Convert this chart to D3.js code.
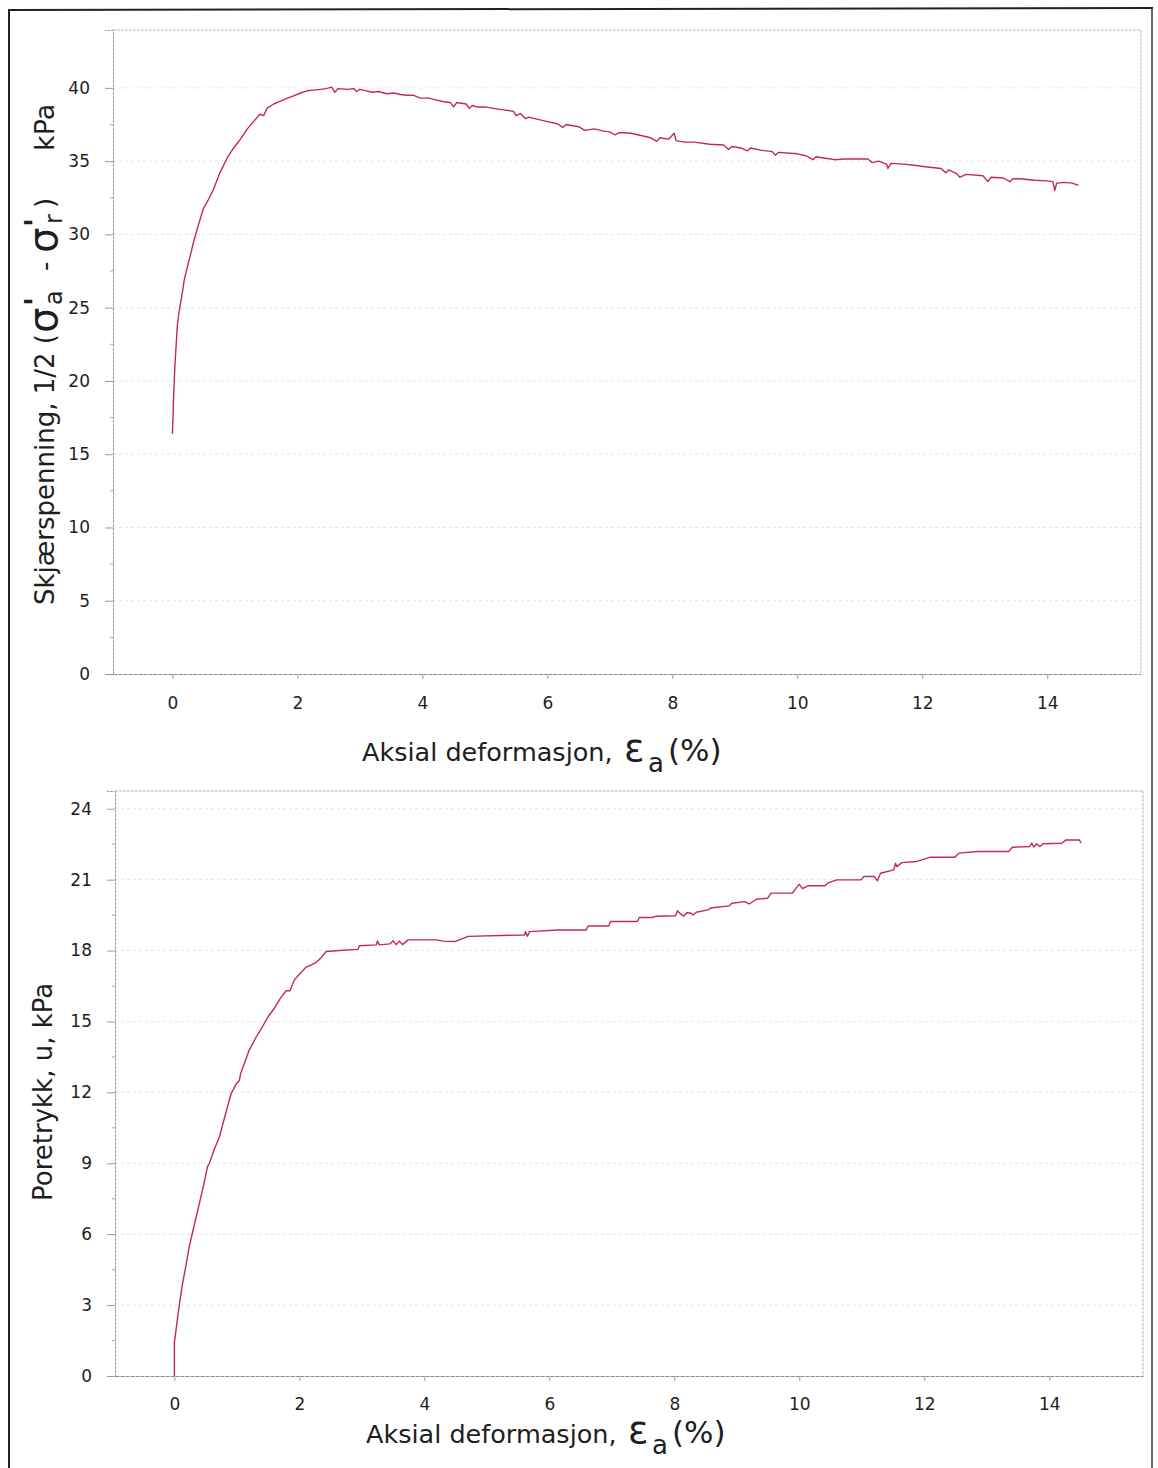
<!DOCTYPE html>
<html><head><meta charset="utf-8">
<script src="https://cdn.jsdelivr.net/npm/d3@7"></script>
<style>
body{margin:0;background:#fff}
text{font-family:"DejaVu Sans",Verdana,sans-serif;fill:#1e1e1e}
</style>
</head><body>
<svg id="c" width="1158" height="1468"></svg>
<script>
// ---------- data ----------
const xTicks = [0, 2, 4, 6, 8, 10, 12, 14];
const shearTicks = [0, 5, 10, 15, 20, 25, 30, 35, 40];
const poreTicks = [0, 3, 6, 9, 12, 15, 18, 21, 24];

const shearStrain = [0,0.01,0.02,0.04,0.064,0.08,0.10,0.13,0.155,0.19,0.235,0.29,0.34,0.42,0.50,0.58,0.66,0.76,0.875,0.98,
1.09,1.20,1.30,1.40,1.46,1.515,1.62,1.73,1.84,1.94,2.05,2.155,2.26,2.37,2.46,2.55,2.60,2.65,2.8,2.9,
2.95,3.0,3.11,3.2,3.3,3.43,3.55,3.65,3.75,3.85,3.97,4.1,4.2,4.34,4.45,4.50,4.55,4.7,4.75,4.8,
4.875,5.0,5.14,5.3,5.46,5.5,5.57,5.65,5.7,5.85,6.0,6.16,6.25,6.3,6.5,6.6,6.75,6.9,7.0,7.08,
7.15,7.34,7.5,7.65,7.75,7.8,7.94,8.03,8.06,8.2,8.35,8.6,8.82,8.9,8.95,9.1,9.2,9.25,9.41,9.6,
9.65,9.7,10.0,10.15,10.25,10.3,10.45,10.6,10.75,11.13,11.2,11.3,11.43,11.45,11.5,11.7,11.9,12.08,12.3,12.38,
12.42,12.55,12.6,12.7,12.97,13.05,13.1,13.3,13.4,13.45,13.56,13.8,14.0,14.09,14.12,14.15,14.27,14.4,14.5];
const shearStress = [16.4,17.5,19.0,21.0,22.7,23.8,24.5,25.3,25.9,26.9,27.7,28.6,29.5,30.7,31.8,32.4,33.1,34.2,35.2,35.9,
36.5,37.2,37.7,38.2,38.1,38.6,38.9,39.1,39.3,39.45,39.65,39.8,39.85,39.9,39.95,40.05,39.7,39.95,39.9,39.95,
39.75,39.9,39.8,39.7,39.75,39.6,39.65,39.55,39.5,39.5,39.3,39.3,39.2,39.05,39.0,38.7,39.0,38.9,38.6,38.8,
38.7,38.7,38.6,38.5,38.4,38.1,38.25,37.9,38.0,37.85,37.7,37.55,37.3,37.5,37.35,37.1,37.2,37.05,37.0,36.8,
36.95,36.9,36.75,36.6,36.35,36.6,36.5,36.9,36.4,36.3,36.3,36.15,36.1,35.8,36.0,35.9,35.7,35.9,35.75,35.65,
35.4,35.6,35.5,35.35,35.1,35.3,35.2,35.1,35.15,35.15,34.9,35.0,34.8,34.5,34.85,34.8,34.7,34.6,34.5,34.2,
34.4,34.15,33.9,34.1,34.0,33.6,33.9,33.85,33.6,33.8,33.8,33.7,33.65,33.6,33.0,33.5,33.55,33.5,33.35];

const poreStrain = [0,0,0.02,0.053,0.09,0.13,0.18,0.24,0.32,0.40,0.47,0.53,0.56,0.64,0.72,0.81,0.91,1.0,1.04,1.06,
1.2,1.3,1.415,1.5,1.6,1.7,1.79,1.85,1.92,2.0,2.11,2.2,2.27,2.35,2.43,2.64,2.94,2.96,3.23,3.25,
3.28,3.45,3.5,3.55,3.6,3.65,3.74,4.19,4.3,4.49,4.7,5.6,5.62,5.65,5.68,6.13,6.59,6.62,6.95,6.98,
7.41,7.44,7.66,7.7,8.02,8.05,8.1,8.15,8.2,8.27,8.3,8.35,8.54,8.58,8.88,8.92,9.13,9.2,9.31,9.49,
9.55,9.89,9.95,10.0,10.05,10.14,10.41,10.45,10.6,10.99,11.03,11.2,11.25,11.3,11.51,11.54,11.56,11.64,11.88,12.1,
12.49,12.55,12.86,13.35,13.41,13.69,13.72,13.75,13.8,13.85,13.9,14.2,14.27,14.48,14.51];
const porePressure = [0,1.4,1.8,2.5,3.2,3.9,4.6,5.5,6.4,7.3,8.1,8.86,9.0,9.6,10.1,11.0,11.96,12.4,12.5,12.8,
13.8,14.3,14.8,15.2,15.56,16.0,16.3,16.3,16.76,17.0,17.3,17.4,17.5,17.7,17.96,18.0,18.05,18.2,18.24,18.4,
18.24,18.28,18.42,18.25,18.4,18.25,18.45,18.45,18.4,18.38,18.6,18.66,18.8,18.6,18.8,18.87,18.87,19.04,19.04,19.23,
19.23,19.4,19.4,19.45,19.47,19.68,19.55,19.45,19.6,19.58,19.5,19.62,19.72,19.8,19.89,20.0,20.07,19.97,20.17,20.21,
20.43,20.43,20.64,20.8,20.62,20.74,20.74,20.85,20.99,20.99,21.13,21.13,20.95,21.27,21.41,21.69,21.55,21.72,21.77,21.95,
21.95,22.12,22.19,22.19,22.37,22.4,22.55,22.38,22.52,22.4,22.52,22.54,22.68,22.68,22.56];

// ---------- drawing ----------
const svg = d3.select("#c");
const LINE = "#c3285c";

// scanned page frame
svg.append("line").attr("x1",9).attr("y1",9).attr("x2",9).attr("y2",1468).attr("stroke","#222").attr("stroke-width",2);
svg.append("line").attr("x1",8).attr("y1",10).attr("x2",1153).attr("y2",8).attr("stroke","#222").attr("stroke-width",2);
svg.append("line").attr("x1",1152).attr("y1",8).attr("x2",1152).attr("y2",1468).attr("stroke","#333").attr("stroke-width",1.5);

function panel(cfg){
  const x = d3.scaleLinear().domain([-0.95, 15.5]).range([cfg.left, cfg.right]);
  const y = d3.scaleLinear().domain([0, cfg.ymax]).range([cfg.bottom, cfg.top]);
  const g = svg.append("g");

  // gridlines
  g.append("g").selectAll("line").data(cfg.yTicks.filter(d=>d>0)).join("line")
    .attr("x1",cfg.left).attr("x2",cfg.right)
    .attr("y1",d=>y(d)).attr("y2",d=>y(d))
    .attr("stroke","#e6e6ee").attr("stroke-dasharray","3,3");
  // plot border (top/right)
  g.append("path")
    .attr("d",`M${cfg.left},${cfg.top}H${cfg.right}V${cfg.bottom}`)
    .attr("fill","none").attr("stroke","#b8b8c0").attr("stroke-dasharray","3,1");

  // minor y ticks
  const step = cfg.yTicks[1]-cfg.yTicks[0];
  g.append("g").selectAll("line").data(cfg.yTicks.slice(0,-1).map(d=>d+step/2)).join("line")
    .attr("x1",cfg.left-3).attr("x2",cfg.left+1)
    .attr("y1",d=>y(d)).attr("y2",d=>y(d)).attr("stroke","#aaa");

  // y axis
  const ya = g.append("g").attr("transform",`translate(${cfg.left},0)`)
    .call(d3.axisLeft(y).tickValues(cfg.yTicks).tickSize(8).tickPadding(15));
  ya.select(".domain").attr("stroke","#9a9a9a").attr("stroke-dasharray","3,1");
  ya.selectAll(".tick line").attr("stroke","#9a9a9a");
  ya.selectAll("text").attr("font-size",17).attr("font-family","DejaVu Sans").attr("fill","#1e1e1e");

  // x axis
  const xa = g.append("g").attr("transform",`translate(0,${cfg.bottom})`)
    .call(d3.axisBottom(x).tickValues(xTicks).tickSize(5).tickPadding(cfg.xpad).tickSizeOuter(0));
  xa.select(".domain").attr("stroke","#8a8a8a").attr("stroke-dasharray","4,1");
  xa.selectAll(".tick line").attr("stroke","#9a9a9a");
  xa.selectAll("text").attr("font-size",17).attr("font-family","DejaVu Sans").attr("fill","#1e1e1e");

  // curve
  const pts = cfg.xs.map((v,i)=>[v, cfg.ys[i]]);
  g.append("path").datum(pts)
    .attr("d", d3.line().x(d=>x(d[0])).y(d=>y(d[1])))
    .attr("fill","none").attr("stroke",LINE).attr("stroke-width",1.4).attr("stroke-linejoin","round");

  // x title
  const t = cfg.xt;
  g.append("text").attr("x",t.x).attr("y",t.y).attr("font-size",25.5).text("Aksial deformasjon,");
  g.append("text").attr("x",t.x+262).attr("y",t.y).attr("font-size",38).text("ε");
  g.append("text").attr("x",t.x+286).attr("y",t.y+11).attr("font-size",26).text("a");
  g.append("text").attr("x",t.x+306).attr("y",t.y).attr("font-size",31).text("(%)");
  return {x,y};
}

panel({left:113,right:1141,top:30,bottom:674,ymax:43.95,yTicks:shearTicks,
       xs:shearStrain,ys:shearStress,xpad:18,xt:{x:362,y:761}});
panel({left:115,right:1143,top:791,bottom:1376,ymax:24.75,yTicks:poreTicks,
       xs:poreStrain,ys:porePressure,xpad:17,xt:{x:366,y:1443}});

// y titles (rotated)
function rot(x, yStart, txt, size, weight){
  return svg.append("text").attr("transform",`translate(${x},${yStart}) rotate(-90)`)
    .attr("font-size",size).attr("font-weight",weight||"normal").text(txt);
}
rot(54, 605, "Skjærspenning, 1/2 (", 26);
rot(57, 333, "σ", 40);
rot(46, 306, "'", 30, "bold");
rot(62, 305, "a", 24);
rot(54, 271, "-", 26);
rot(57, 253, "σ", 40);
rot(46, 227, "'", 30, "bold");
rot(62, 224, "r", 24);
rot(54, 208, ")", 26);
rot(54, 151, "kPa", 27);

rot(52, 1201, "Poretrykk, u, kPa", 26);
</script>
</body></html>
